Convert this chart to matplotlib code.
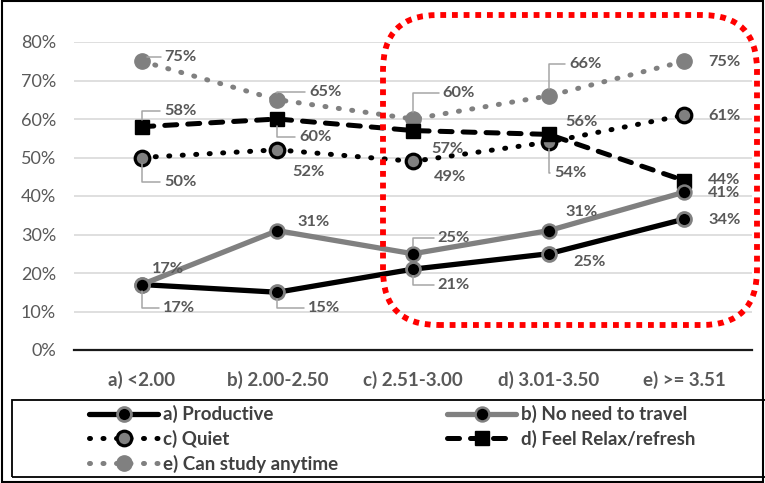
import matplotlib
matplotlib.use("Agg")
import matplotlib.pyplot as plt
from matplotlib.patches import FancyBboxPatch, Rectangle

categories = ["a) <2.00", "b) 2.00-2.50", "c) 2.51-3.00", "d) 3.01-3.50", "e) >= 3.51"]
productive = [17, 15, 21, 25, 34]
no_travel = [17, 31, 25, 31, 41]
quiet = [50, 52, 49, 54, 61]
relax = [58, 60, 57, 56, 44]
anytime = [75, 65, 60, 66, 75]
series_names = ["a) Productive", "b) No need to travel", "c) Quiet",
                "d) Feel Relax/refresh", "e) Can study anytime"]

FONT = "Lato"
plt.rcParams["font.family"] = [FONT, "DejaVu Sans"]

TXT = "#595959"
GRAY = "#808080"
LEAD = "#a6a6a6"

fig = plt.figure(figsize=(7.65, 4.83), dpi=100)
ax = fig.add_axes([74 / 765, 1 - 350 / 483, 678 / 765, 308 / 483])
x = list(range(len(categories)))

DOTS = (0, (0.2, 2.5))
DASH = (0, (2.4, 2.2))

# label offsets in pixels (dx, dy), and whether a leader line is drawn
styles = [
    dict(data=productive, color="black", ls="-", lw=3.8, marker="o", ms=10,
         mfc="black", mec=GRAY, mew=2, z=5,
         offs=[(37, -23), (47, -16), (41, -16), (41, -8), (40, -1)],
         lead=[True, True, True, False, False]),
    dict(data=no_travel, color=GRAY, ls="-", lw=3.8, marker="o", ms=10,
         mfc="black", mec=GRAY, mew=1.8, z=5,
         offs=[(26, 16), (36, 9), (41, 16), (33, 19), (40, -1)],
         lead=[False, False, True, False, False]),
    dict(data=quiet, color="black", ls=DOTS, lw=3.6, marker="o", ms=10.5,
         mfc=GRAY, mec="black", mew=2.3, z=4,
         offs=[(39, -24), (31, -22), (37, -16), (22, -31), (40, -1)],
         lead=[True, False, False, True, False]),
    dict(data=relax, color="black", ls=DASH, lw=3.6, marker="s", ms=10,
         mfc="black", mec="black", mew=1, z=4,
         offs=[(39, 16), (38, -18), (34, -18), (33, 12), (40, 1)],
         lead=[True, True, False, False, False]),
    dict(data=anytime, color=GRAY, ls=DOTS, lw=3.6, marker="o", ms=11,
         mfc=GRAY, mec=GRAY, mew=1, z=3,
         offs=[(39, 4), (48, 8), (46, 26), (37, 32), (40, -1)],
         lead=[True, True, True, True, False]),
]

handles = []
for name, st in zip(series_names, styles):
    vals = [v / 100 for v in st["data"]]
    (ln,) = ax.plot(x, vals, color=st["color"], ls=st["ls"], lw=st["lw"],
                    marker=st["marker"], ms=st["ms"], mfc=st["mfc"], mec=st["mec"],
                    mew=st["mew"], zorder=st["z"], dash_capstyle="round",
                    solid_capstyle="round", clip_on=False, label=name)
    handles.append(ln)
    for xi, v, (dx, dy), ld in zip(x, st["data"], st["offs"], st["lead"]):
        kw = {}
        if ld:
            kw["arrowprops"] = dict(arrowstyle="-", color=LEAD, lw=1.1, shrinkA=1, shrinkB=5,
                                    connectionstyle="angle,angleA=0,angleB=90,rad=0")
        ax.annotate(f"{v}%", (xi, v / 100), xytext=(dx, dy), textcoords="offset pixels",
                    ha="center", va="center", fontsize=11.8, fontweight="bold",
                    color=TXT, zorder=8, **kw)

ax.set_xlim(-0.5, 4.5)
ax.set_ylim(0, 0.8)
ax.set_yticks([i / 10 for i in range(9)])
ax.set_yticklabels([f"{i * 10}%" for i in range(9)])
ax.set_xticks(x)
ax.set_xticklabels(categories, fontweight="bold")
ax.tick_params(axis="both", length=0, colors=TXT)
ax.tick_params(axis="x", pad=15, labelsize=13.5)
ax.tick_params(axis="y", pad=13, labelsize=13)
ax.grid(axis="y", color="#d9d9d9", lw=1.2)
ax.set_axisbelow(True)
for s in ["top", "right", "left"]:
    ax.spines[s].set_visible(False)
ax.spines["bottom"].set_color("#1a1a1a")
ax.spines["bottom"].set_linewidth(1.6)

# legend laid out row by row: a b / c d / e
order = [0, 2, 4, 1, 3]
leg = fig.legend(handles=[handles[i] for i in order], loc="upper left", ncol=2,
                 bbox_to_anchor=(74 / 765, 1 - 390 / 483),
                 frameon=False, handlelength=3.7, handletextpad=0.25,
                 borderpad=0.3, labelspacing=0.36, columnspacing=5.8,
                 prop=dict(weight="bold", size=13.5))
for t in leg.get_texts():
    t.set_color("#404040")
fig.patches.append(Rectangle((12 / 765, 6 / 483), 760 / 765, 77 / 483,
                             transform=fig.transFigure, fill=False,
                             edgecolor="black", lw=1.3, zorder=11))

# highlight frame around the upper grade groups
fig.patches.append(FancyBboxPatch((3.83, 1.58), 3.74, 3.10,
                                  boxstyle="round,pad=0,rounding_size=0.55",
                                  transform=fig.dpi_scale_trans, fill=False,
                                  edgecolor="red", lw=4.2, ls=(0, (1, 1)), zorder=10))
# outer border
fig.patches.append(Rectangle((0.003, 0.003), 0.994, 0.994, transform=fig.transFigure,
                             fill=False, edgecolor="black", lw=1.5, zorder=11))

fig.savefig("out.png", dpi=100)
